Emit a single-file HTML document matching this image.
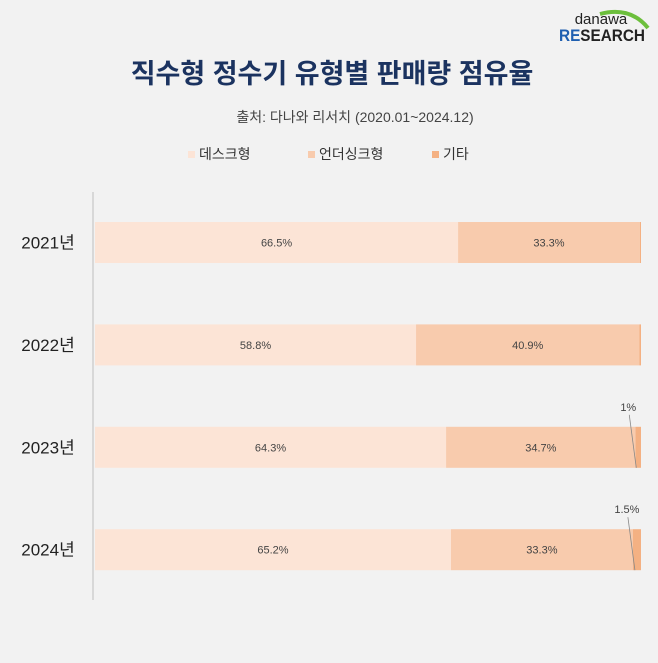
<!DOCTYPE html>
<html><head><meta charset="utf-8">
<style>
html,body{margin:0;padding:0;background:#f2f2f2;}
body{width:658px;height:658px;overflow:hidden;font-family:"Liberation Sans","Noto Sans CJK KR",sans-serif;}
</style></head>
<body>
<svg id="chart" width="658" height="658" xmlns="http://www.w3.org/2000/svg" style="font-family:'Liberation Sans','Noto Sans CJK KR',sans-serif">
  <rect width="658" height="658" fill="#f2f2f2"/>
  <g>
    <path d="M600 14 Q630 6 648 28" stroke="#6cbf3c" stroke-width="4" fill="none"/>
    <text x="601" y="24" font-size="15" fill="#222" text-anchor="middle">danawa</text>
    <text x="602" y="41" font-size="17" font-weight="bold" text-anchor="middle" fill="#222" textLength="86" lengthAdjust="spacingAndGlyphs"><tspan fill="#1f5fb0">RE</tspan>SEARCH</text>
  </g>
  <text x="332" y="83" font-size="27" font-weight="bold" fill="#1b3360" text-anchor="middle">직수형 정수기 유형별 판매량 점유율</text>
  <text x="355" y="122" font-size="14" fill="#444" text-anchor="middle">출처: 다나와 리서치 (2020.01~2024.12)</text>
  <g id="legend"></g>
  <line x1="93" y1="192" x2="93" y2="600" stroke="#d0d0d0" stroke-width="1.5"/>
  <g id="bars"></g>
</svg>
<script>
const categories = ["2021년","2022년","2023년","2024년"];
const seriesNames = ["데스크형","언더싱크형","기타"];
const desk = [66.5, 58.8, 64.3, 65.2];
const under = [33.3, 40.9, 34.7, 33.3];
const other = [0.2, 0.3, 1, 1.5];
const otherLabels = ["", "", "1%", "1.5%"];
const colors = ["#fce4d6","#f8cbad","#f4b183"];

const NS = "http://www.w3.org/2000/svg";
const x0 = 95, fullW = 546;
const xScale = v => v / 100 * fullW;
const rowTop = i => 222 + i * 102.4;
const barH = 41;
const bars = document.getElementById("bars");
function mk(tag, attrs, parent){ const e=document.createElementNS(NS,tag); for(const k in attrs) e.setAttribute(k,attrs[k]); parent.appendChild(e); return e; }

const legend = document.getElementById("legend");
const lx = [188, 308, 432];
seriesNames.forEach((n,i)=>{
  const r = mk("rect",{x:lx[i],y:151,width:7,height:7,fill:colors[i]},legend);
  
  
  const t = mk("text",{x:lx[i]+11,y:159,"font-size":14,fill:"#333"},legend);
  t.textContent = n;
  
  
});

categories.forEach((c,i)=>{
  const y = rowTop(i);
  const lab = mk("text",{x:48,y:y+barH/2+6,"font-size":17,fill:"#222","text-anchor":"middle"},bars);
  lab.textContent = c;
  
  
  const vals = [desk[i], under[i], other[i]];
  let acc = 0;
  vals.forEach((v,s)=>{
    const bx = x0 + xScale(acc), bw = xScale(v);
    const r = mk("rect",{x:bx,y:y,width:bw,height:barH,fill:colors[s]},bars);
    
    
    if (s < 2) {
      const t = mk("text",{x:bx+bw/2,y:y+barH/2+4,"font-size":11,fill:"#444","text-anchor":"middle"},bars);
      t.textContent = v.toFixed(1) + "%";
      
      
    } else if (otherLabels[i]) {
      const cx = bx + bw/2;
      const ln = mk("line",{x1:cx-2,y1:y+barH,x2:cx-9,y2:y-12,stroke:"#888","stroke-width":0.8},bars);
      
      
      const t = mk("text",{x:cx-10,y:y-16,"font-size":11,fill:"#444","text-anchor":"middle"},bars);
      t.textContent = otherLabels[i];
      
      
    }
    acc += v;
  });
});
</script>
</body></html>
